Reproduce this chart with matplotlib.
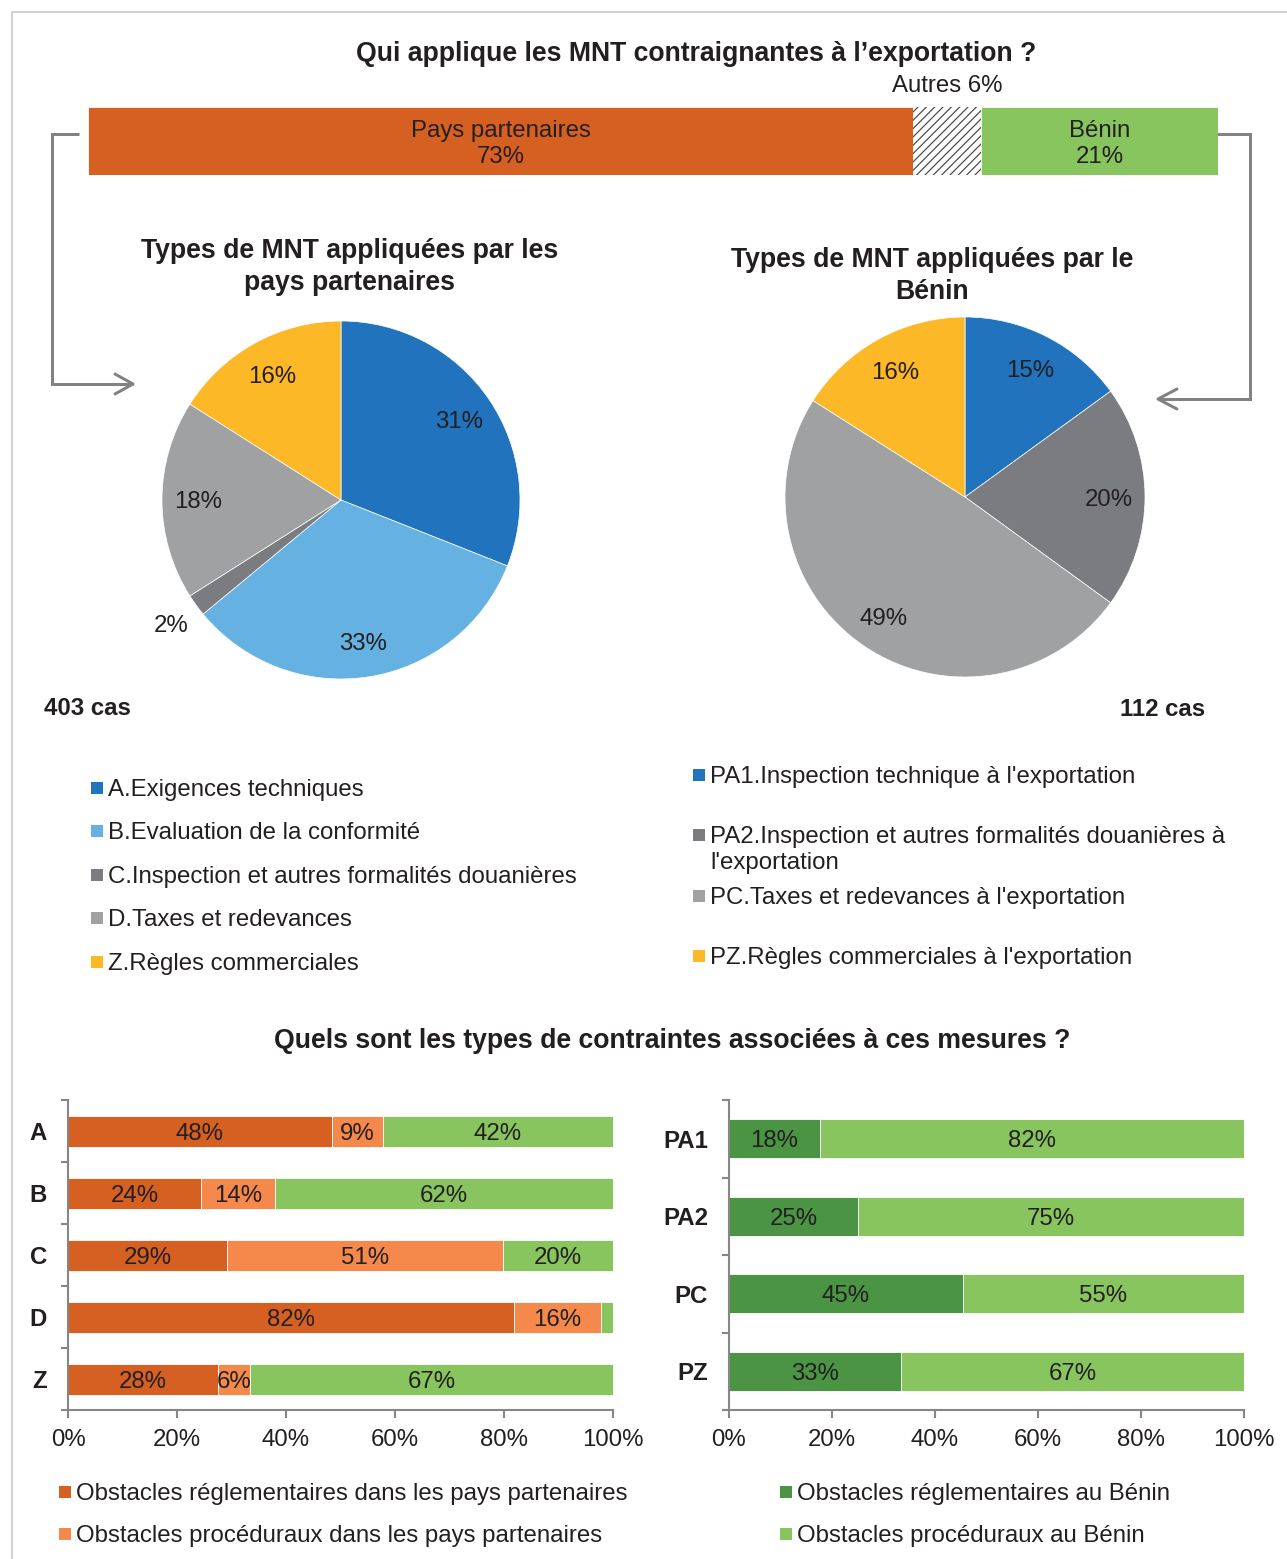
import matplotlib
matplotlib.use("Agg")
import matplotlib.pyplot as plt
from matplotlib.patches import Rectangle
import numpy as np

plt.rcParams['font.family'] = ['Liberation Sans', 'DejaVu Sans']
plt.rcParams['hatch.linewidth'] = 0.9

# ---------------- data ----------------
top_title = "Qui applique les MNT contraignantes à l’exportation ?"
top_labels = ["Pays partenaires", "Autres", "Bénin"]
top_values = [73, 6, 21]

left_pie_title = "Types de MNT appliquées par les\npays partenaires"
left_pie_cats = ["A.Exigences techniques", "B.Evaluation de la conformité",
                 "C.Inspection et autres formalités douanières",
                 "D.Taxes et redevances", "Z.Règles commerciales"]
left_pie_values = [31, 33, 2, 18, 16]
left_pie_n = "403 cas"

right_pie_title = "Types de MNT appliquées par le\nBénin"
right_pie_cats = ["PA1.Inspection technique à l'exportation",
                  "PA2.Inspection et autres formalités douanières à\nl'exportation",
                  "PC.Taxes et redevances à l'exportation",
                  "PZ.Règles commerciales à l'exportation"]
right_pie_values = [15, 20, 49, 16]
right_pie_n = "112 cas"

bottom_title = "Quels sont les types de contraintes associées à ces mesures ?"
left_bar_cats = ["A", "B", "C", "D", "Z"]
left_reg_partner = [48.4, 24.4, 29.2, 81.8, 27.6]
left_proc_partner = [9.4, 13.6, 50.6, 16.0, 5.8]
left_proc_benin = [42.2, 62.0, 20.2, 2.2, 66.6]

right_bar_cats = ["PA1", "PA2", "PC", "PZ"]
right_reg_benin = [17.7, 25.0, 45.4, 33.4]
right_proc_benin = [82.3, 75.0, 54.6, 66.6]

legend_left = ["Obstacles réglementaires dans les pays partenaires",
               "Obstacles procéduraux dans les pays partenaires"]
legend_right = ["Obstacles réglementaires au Bénin",
                "Obstacles procéduraux au Bénin"]
x_ticks = [0, 20, 40, 60, 80, 100]

# ---------------- styles ----------------
C_ORANGE = "#D66022"
C_LORANGE = "#F4894B"
C_GREEN = "#88C55E"
C_DGREEN = "#4A9444"
C_BLUE = "#2073BC"
C_LBLUE = "#65B2E2"
C_DGRAY = "#7B7C80"
C_GRAY = "#A0A1A3"
C_YELLOW = "#FCB827"
TXT = "#231F20"
AX = "#868686"
ARROW = "#808285"
FS = 17.25
FS_T = 19.2

W, H = 1287, 1559
fig = plt.figure(figsize=(W / 100, H / 100), dpi=100)
fig.patch.set_facecolor("white")


def px_axes(x0, y0, x1, y1, **kw):
    return fig.add_axes([x0 / W, 1 - y1 / H, (x1 - x0) / W, (y1 - y0) / H], **kw)


ov = px_axes(0, 0, W, H)
ov.set_xlim(0, W)
ov.set_ylim(H, 0)
ov.axis("off")
ov.patch.set_alpha(0)

# frame
ov.plot([12, 12, W + 5], [H + 5, 12, 12], color="#C8C8C8", lw=1.2, solid_joinstyle="miter")

# ---------------- top bar ----------------
ov.text(696, 51, top_title, ha="center", va="center_baseline", fontsize=FS_T,
        fontweight="bold", color=TXT)
axt = px_axes(88, 107, 1218, 175)
left = 0
top_colors = [C_ORANGE, "white", C_GREEN]
for lab, v, c in zip(top_labels, top_values, top_colors):
    if lab == "Autres":
        axt.barh(0, v, left=left, height=1, color="white", edgecolor="#4D4D4D", hatch="////", lw=0)
        axt.text(left + v / 2, 0.84, f"{lab} {v}%", ha="center", va="center_baseline",
                 fontsize=FS, color=TXT, clip_on=False)
    else:
        axt.barh(0, v, left=left, height=1, color=c, edgecolor="white", lw=0.6)
        axt.text(left + v / 2, -0.04, f"{lab}\n{v}%", ha="center", va="center",
                 fontsize=FS, color=TXT, linespacing=1.22)
    left += v
axt.set_xlim(0, sum(top_values))
axt.set_ylim(-0.5, 0.5)
axt.axis("off")

# connectors
lw_arrow = 3 * 0.72
ov.plot([79, 52, 52, 133], [134, 134, 384, 384], color=ARROW, lw=lw_arrow,
        solid_joinstyle="miter", solid_capstyle="butt")
ov.plot([115, 133, 115], [374, 384, 394], color=ARROW, lw=lw_arrow, solid_capstyle="round")
ov.plot([1217, 1250, 1250, 1158], [134, 134, 399, 399], color=ARROW, lw=lw_arrow,
        solid_joinstyle="miter", solid_capstyle="butt")
ov.plot([1177, 1158, 1177], [389, 399, 409], color=ARROW, lw=lw_arrow, solid_capstyle="round")


# ---------------- pies ----------------
def draw_pie(cx, cy, r, values, colors, title, tx, ty):
    ax = px_axes(cx - r, cy - r, cx + r, cy + r)
    ax.pie(values, colors=colors, startangle=90, counterclock=False, radius=1,
           wedgeprops=dict(edgecolor="white", linewidth=0.5))
    total = sum(values)
    cum = 0
    for v in values:
        mid = np.deg2rad(90 - (cum + v / 2) / total * 360)
        d = 0.8 if v >= 5 else 1.17
        ax.text(d * np.cos(mid), d * np.sin(mid), f"{v}%", ha="center", va="center_baseline",
                fontsize=FS, color=TXT, clip_on=False)
        cum += v
    ax.set_xlim(-1, 1)
    ax.set_ylim(-1, 1)
    ax.set_aspect("equal")
    ax.axis("off")
    ov.text(tx, ty, title, ha="center", va="center", fontsize=FS_T, fontweight="bold",
            color=TXT, linespacing=1.32)


draw_pie(341, 500, 179, left_pie_values, [C_BLUE, C_LBLUE, C_DGRAY, C_GRAY, C_YELLOW],
         left_pie_title, 350, 267)
draw_pie(965, 497, 180, right_pie_values, [C_BLUE, C_DGRAY, C_GRAY, C_YELLOW],
         right_pie_title, 932, 276)
ov.text(87, 706, left_pie_n, ha="center", va="center_baseline", fontsize=FS,
        fontweight="bold", color=TXT)
ov.text(1163, 707, right_pie_n, ha="center", va="center_baseline", fontsize=FS,
        fontweight="bold", color=TXT)


# ---------------- legends ----------------
def legend_item(x, y, color, label, sq=12):
    ov.add_patch(Rectangle((x, y - sq / 2), sq, sq, facecolor=color, edgecolor="none"))
    ov.text(x + sq + 5, y - 9, label, ha="left", va="top", fontsize=FS, color=TXT,
            linespacing=1.25)


for lab, c, y in zip(left_pie_cats, [C_BLUE, C_LBLUE, C_DGRAY, C_GRAY, C_YELLOW],
                     [788, 831, 875, 918, 962]):
    legend_item(91, y, c, lab)
for lab, c, y in zip(right_pie_cats, [C_BLUE, C_DGRAY, C_GRAY, C_YELLOW],
                     [775, 835, 896, 956]):
    legend_item(693, y, c, lab)

# ---------------- bottom bars ----------------
ov.text(672, 1038, bottom_title, ha="center", va="center_baseline", fontsize=FS_T,
        fontweight="bold", color=TXT)


def style_bar_axes(ax, cats):
    n = len(cats)
    ax.set_xlim(0, 100)
    ax.set_ylim(n - 0.5, -0.5)
    for s in ["top", "right"]:
        ax.spines[s].set_visible(False)
    for s in ["left", "bottom"]:
        ax.spines[s].set_color(AX)
        ax.spines[s].set_linewidth(1.5)
    ax.set_yticks(np.arange(n + 1) - 0.5)
    ax.set_yticklabels([])
    ax.set_yticks(np.arange(n), minor=True)
    ax.set_yticklabels(cats, minor=True, fontsize=FS, fontweight="bold", color=TXT)
    ax.tick_params(axis="y", which="major", length=5, width=1.5, color=AX, direction="out")
    ax.tick_params(axis="y", which="minor", length=0, pad=15)
    ax.set_xticks(x_ticks)
    ax.set_xticklabels([f"{t}%" for t in x_ticks], fontsize=FS, color=TXT)
    ax.tick_params(axis="x", length=6, width=1.5, color=AX, direction="out", pad=7.5)
    ax.patch.set_alpha(0)


def stacked(ax, series, colors):
    n = len(series[0])
    y = np.arange(n)
    lefts = np.zeros(n)
    for vals, c in zip(series, colors):
        vals = np.array(vals)
        ax.barh(y, vals, left=lefts, height=0.5, color=c, edgecolor="white", lw=0.6)
        for yi, l, v in zip(y, lefts, vals):
            if v >= 4:
                ax.text(l + v / 2, yi, f"{v:.0f}%", ha="center", va="center_baseline",
                        fontsize=FS, color=TXT)
        lefts += vals


axl = px_axes(68, 1100, 613, 1410)
stacked(axl, [left_reg_partner, left_proc_partner, left_proc_benin], [C_ORANGE, C_LORANGE, C_GREEN])
style_bar_axes(axl, left_bar_cats)

axr = px_axes(729, 1100, 1244, 1410)
stacked(axr, [right_reg_benin, right_proc_benin], [C_DGREEN, C_GREEN])
style_bar_axes(axr, right_bar_cats)

for lab, c, y in zip(legend_left, [C_ORANGE, C_LORANGE], [1492, 1534]):
    legend_item(59, y, c, lab)
for lab, c, y in zip(legend_right, [C_DGREEN, C_GREEN], [1492, 1534]):
    legend_item(780, y, c, lab)

fig.savefig("out.png", dpi=100, facecolor="white")
